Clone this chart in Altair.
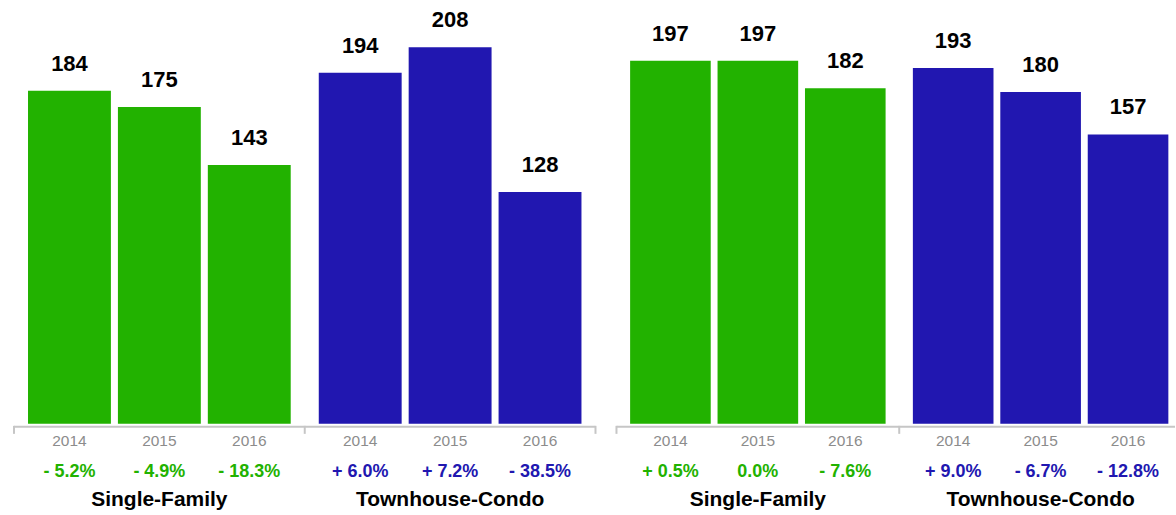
import altair as alt
import pandas as pd

FONT = "Liberation Sans, Arial, Helvetica, sans-serif"

groups = ["Single-Family", "Townhouse-Condo"]
years = ["2014", "2015", "2016"]
colors = ["#22b200", "#2117b0"]

# Left panel
left_sf_values = [184, 175, 143]
left_tc_values = [194, 208, 128]
left_sf_pct = ["- 5.2%", "- 4.9%", "- 18.3%"]
left_tc_pct = ["+ 6.0%", "+ 7.2%", "- 38.5%"]

# Right panel
right_sf_values = [197, 197, 182]
right_tc_values = [193, 180, 157]
right_sf_pct = ["+ 0.5%", "0.0%", "- 7.6%"]
right_tc_pct = ["+ 9.0%", "- 6.7%", "- 12.8%"]


def panel(sf_vals, tc_vals, sf_pct, tc_pct, ymax, width, xrange, end_tick):
    rows = []
    for g, vals, pcts in [(groups[0], sf_vals, sf_pct), (groups[1], tc_vals, tc_pct)]:
        for y, v, p in zip(years, vals, pcts):
            rows.append({"group": g, "year": y, "value": v, "pct": p})
    df = pd.DataFrame(rows)
    gdf = pd.DataFrame({"group": groups})

    xenc = alt.X("group:N", sort=groups,
                 scale=alt.Scale(domain=groups, paddingInner=0, paddingOuter=0,
                                 range=[0, xrange]),
                 axis=None)
    xoff = alt.XOffset("year:N", sort=years,
                       scale=alt.Scale(domain=years, paddingInner=0.078, paddingOuter=0.156))
    color = alt.Color("group:N", scale=alt.Scale(domain=groups, range=colors), legend=None)

    bars = alt.Chart(df).mark_bar().encode(
        x=xenc, xOffset=xoff,
        y=alt.Y("value:Q", scale=alt.Scale(domain=[0, ymax], nice=False, zero=True), axis=None),
        color=color,
    )
    vlabels = alt.Chart(df).mark_text(
        baseline="alphabetic", dy=-20, fontSize=22, fontWeight="bold", color="#000000", font=FONT
    ).encode(
        x=alt.X("group:N", sort=groups), xOffset=xoff,
        y=alt.Y("value:Q"), text="value:Q",
    )
    ylabels = alt.Chart(df).mark_text(
        baseline="alphabetic", fontSize=15.5, color="#8c8c8c", font=FONT
    ).encode(
        x=alt.X("group:N", sort=groups), xOffset=xoff,
        y=alt.value(446), text="year:N",
    )
    plabels = alt.Chart(df).mark_text(
        baseline="alphabetic", fontSize=18, fontWeight="bold", font=FONT
    ).encode(
        x=alt.X("group:N", sort=groups), xOffset=xoff,
        y=alt.value(477), text="pct:N", color=color,
    )
    glabels = alt.Chart(gdf).mark_text(
        baseline="alphabetic", fontSize=21, fontWeight="bold", color="#000000", font=FONT
    ).encode(
        x=alt.X("group:N", sort=groups), y=alt.value(506), text="group:N",
    )
    axisline = alt.Chart(gdf.head(1)).mark_rule(color="#c6c6c6", strokeWidth=2).encode(
        x=alt.value(0), x2=alt.value(width), y=alt.value(427),
    )
    ticks = alt.Chart(gdf).mark_rule(color="#c6c6c6", strokeWidth=2).encode(
        x=alt.X("group:N", sort=groups, bandPosition=0),
        y=alt.value(426), y2=alt.value(434),
    )
    layers = [bars, vlabels, ylabels, plabels, glabels, axisline, ticks]
    if end_tick:
        endt = alt.Chart(gdf.tail(1)).mark_rule(color="#c6c6c6", strokeWidth=2).encode(
            x=alt.X("group:N", sort=groups, bandPosition=1),
            y=alt.value(426), y2=alt.value(434),
        )
        layers.append(endt)
    return alt.layer(*layers).properties(width=width, height=424)


left = panel(left_sf_values, left_tc_values, left_sf_pct, left_tc_pct, 234, 582, 582, True)
right = panel(right_sf_values, right_tc_values, right_sf_pct, right_tc_pct, 229.8, 559, 566, False)

chart = alt.hconcat(left, right, spacing=21, bounds="flush").resolve_scale(
    x="independent", xOffset="independent", y="independent"
).properties(
    padding={"left": 13, "top": 0, "right": 0, "bottom": 0},
    background="#ffffff",
).configure_view(stroke=None, strokeWidth=0)

chart.save("out.html", embed_options={"renderer": "svg", "actions": False})
